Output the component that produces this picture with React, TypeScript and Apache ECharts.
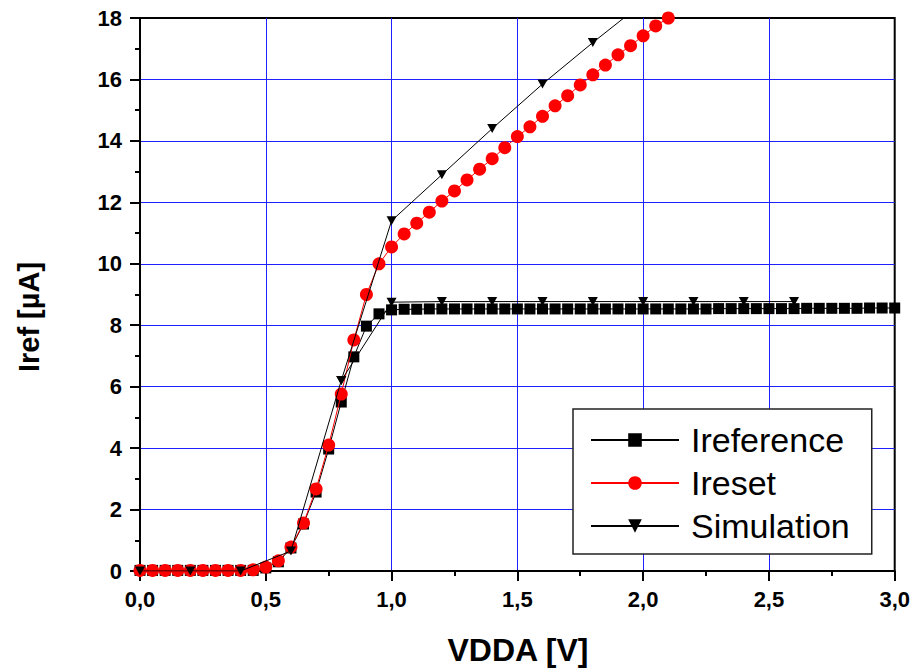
import React, { useEffect, useRef } from "react";
import * as echarts from "echarts";

const FONT = "'Liberation Sans', Arial, Helvetica, sans-serif";

// Measured x values (V)
const vdda = [
  0.0, 0.05, 0.1, 0.15, 0.2, 0.25, 0.3, 0.35, 0.4, 0.45,
  0.5, 0.55, 0.6, 0.65, 0.7, 0.75, 0.8, 0.85, 0.9, 0.95,
  1.0, 1.05, 1.1, 1.15, 1.2, 1.25, 1.3, 1.35, 1.4, 1.45,
  1.5, 1.55, 1.6, 1.65, 1.7, 1.75, 1.8, 1.85, 1.9, 1.95,
  2.0, 2.05, 2.1, 2.15, 2.2, 2.25, 2.3, 2.35, 2.4, 2.45,
  2.5, 2.55, 2.6, 2.65, 2.7, 2.75, 2.8, 2.85, 2.9, 2.95, 3.0,
];

const iReference = [
  0.02, 0.02, 0.02, 0.02, 0.02, 0.02, 0.02, 0.02, 0.02, 0.02,
  0.1, 0.3, 0.75, 1.53, 2.57, 3.97, 5.5, 6.97, 7.97, 8.37,
  8.5, 8.52, 8.52, 8.53, 8.53, 8.53, 8.53, 8.53, 8.53, 8.53,
  8.53, 8.53, 8.53, 8.53, 8.53, 8.53, 8.53, 8.53, 8.53, 8.53,
  8.53, 8.53, 8.53, 8.53, 8.53, 8.53, 8.54, 8.54, 8.54, 8.54,
  8.54, 8.54, 8.54, 8.55, 8.55, 8.55, 8.55, 8.55, 8.56, 8.56, 8.56,
];

const iReset = [
  0.02, 0.02, 0.02, 0.02, 0.02, 0.02, 0.02, 0.02, 0.02, 0.04,
  0.13, 0.33, 0.78, 1.56, 2.67, 4.1, 5.76, 7.52, 9.0, 10.0,
  10.55, 10.97, 11.32, 11.68, 12.04, 12.37, 12.73, 13.08, 13.42, 13.78,
  14.14, 14.46, 14.8, 15.14, 15.47, 15.82, 16.15, 16.47, 16.8, 17.1,
  17.42, 17.74, 18.0,
];

// Simulation (lower branch, in legend)
const simX = [0.0, 0.2, 0.4, 0.6, 0.8, 1.0, 1.2, 1.4, 1.6, 1.8, 2.0, 2.2, 2.4, 2.6];
const simY = [0.0, 0.0, 0.0, 0.65, 6.2, 8.75, 8.77, 8.77, 8.77, 8.77, 8.77, 8.77, 8.77, 8.77];

// Simulation (upper branch)
const simUpX = [0.8, 1.0, 1.2, 1.4, 1.6, 1.8, 2.0];
const simUpY = [6.2, 11.4, 12.9, 14.4, 15.85, 17.2, 18.5];

const xTicks = { min: 0, max: 3, interval: 0.5 };
const yTicks = { min: 0, max: 18, interval: 2 };

const zip = (xs: number[], ys: number[]) => ys.map((y, i) => [xs[i], y]);

export default function App() {
  const ref = useRef<HTMLDivElement>(null);
  useEffect(() => {
    if (!ref.current) return;
    const chart = echarts.init(ref.current, null, { renderer: "svg" });
    const axisCommon = {
      axisLine: { show: true, onZero: false, lineStyle: { color: "#000", width: 2 } },
      axisTick: { show: true, inside: false, length: 10, lineStyle: { color: "#000", width: 2 } },
      minorTick: { show: true, splitNumber: 2, length: 5, lineStyle: { color: "#000", width: 2 } },
      splitLine: {
        show: true,
        showMinLine: false,
        showMaxLine: false,
        lineStyle: { color: "#2020ff", width: 1 },
      },
    };
    const simStyle = {
      type: "line",
      symbol: "triangle",
      symbolRotate: 180,
      symbolSize: [10, 9],
      lineStyle: { color: "#000", width: 1 },
      itemStyle: { color: "#000" },
      clip: true,
      z: 4,
    };
    chart.setOption({
      animation: false,
      grid: {
        left: 140,
        right: 18,
        top: 18,
        bottom: 99,
        show: true,
        borderColor: "#000",
        borderWidth: 2,
        backgroundColor: "transparent",
      },
      xAxis: {
        type: "value",
        ...xTicks,
        ...axisCommon,
        axisLabel: {
          margin: 17,
          fontFamily: FONT,
          fontWeight: "bold",
          fontSize: 22,
          color: "#000",
          formatter: (v: number) => v.toFixed(1).replace(".", ","),
        },
      },
      yAxis: {
        type: "value",
        ...yTicks,
        ...axisCommon,
        axisLabel: {
          margin: 18,
          fontFamily: FONT,
          fontWeight: "bold",
          fontSize: 22,
          color: "#000",
        },
      },
      legend: {
        show: true,
        orient: "vertical",
        left: 573,
        top: 409,
        padding: [14, 22, 11, 17],
        itemWidth: 88,
        itemHeight: 17,
        itemGap: 9,
        borderColor: "#222",
        borderWidth: 1.5,
        backgroundColor: "#fff",
        textStyle: { fontFamily: FONT, fontSize: 34, color: "#000", padding: [0, 0, 0, 7] },
        data: ["Ireference", "Ireset", "Simulation"],
      },
      graphic: [
        {
          type: "text",
          x: 518,
          y: 650,
          style: {
            text: "VDDA [V]",
            font: `bold 32px ${FONT}`,
            fill: "#000",
            textAlign: "center",
            textVerticalAlign: "middle",
          },
        },
        {
          type: "text",
          x: 29,
          y: 317,
          rotation: Math.PI / 2,
          style: {
            text: "Iref [µA]",
            font: `bold 29px ${FONT}`,
            fill: "#000",
            textAlign: "center",
            textVerticalAlign: "middle",
          },
        },
      ],
      series: [
        {
          name: "Ireference",
          type: "line",
          data: zip(vdda, iReference),
          symbol: "rect",
          symbolSize: 11,
          lineStyle: { color: "#000", width: 1 },
          itemStyle: { color: "#000" },
          clip: true,
          z: 2,
        },
        {
          name: "Ireset",
          type: "line",
          data: zip(vdda, iReset),
          symbol: "circle",
          symbolSize: 13,
          lineStyle: { color: "#ff0000", width: 1 },
          itemStyle: { color: "#ff0000" },
          clip: true,
          z: 3,
        },
        { name: "Simulation", data: zip(simX, simY), ...simStyle },
        { name: "Simulation upper", data: zip(simUpX, simUpY), ...simStyle },
      ],
    });
    return () => chart.dispose();
  }, []);
  return (
    <div
      ref={ref}
      style={{ position: "fixed", left: 0, top: 0, width: 913, height: 670, background: "#fff" }}
    />
  );
}
